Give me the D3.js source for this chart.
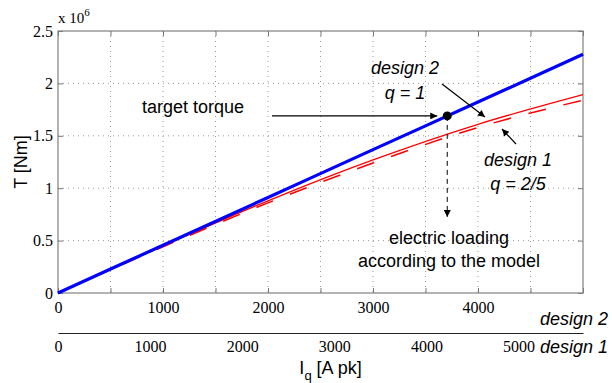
<!DOCTYPE html>
<html>
<head>
<meta charset="utf-8">
<script src="https://cdn.jsdelivr.net/npm/d3@7"></script>
<style>
  body { margin: 0; background: #fff; }
  svg { display: block; }
  .tick text { font-family: "Liberation Serif", "Times New Roman", serif; font-size: 16px; fill: #000; }
  .ann { font-family: "Liberation Sans", Arial, sans-serif; font-size: 18px; fill: #000; }
</style>
</head>
<body>
<div id="chart"></div>
<script>
// current on the design 2 axis [A pk]
const current = [0, 1000, 2000, 3000, 4000, 5000];
// torque [Nm]
const torqueDesign2 = [0, 456000, 912000, 1368000, 1822000, 2278000];
const torqueDesign1 = [0, 450000, 880000, 1270000, 1610000, 1893000];
const torqueDesign1Model = [0, 440000, 860000, 1240000, 1580000, 1840000];
const targetPoint = { current: 3707, torque: 1690000 };
const xTicks = [0, 500, 1000, 1500, 2000, 2500, 3000, 3500, 4000, 4500, 5000];
const xTickLabels = [0, 1000, 2000, 3000, 4000];
const xTicksDesign1 = [0, 1000, 2000, 3000, 4000, 5000];
const yTicks = [0, 0.5e6, 1e6, 1.5e6, 2e6, 2.5e6];

const fullWidth = 612, fullHeight = 383;
const margin = { top: 31, right: 29, bottom: 90, left: 58 };
const width = fullWidth - margin.left - margin.right;
const height = fullHeight - margin.top - margin.bottom;

const svg = d3.select("#chart").append("svg")
  .attr("width", fullWidth)
  .attr("height", fullHeight);

const defs = svg.append("defs");
defs.append("marker")
  .attr("id", "head")
  .attr("viewBox", "0 0 10 10")
  .attr("refX", 10).attr("refY", 5)
  .attr("markerWidth", 10).attr("markerHeight", 7)
  .attr("markerUnits", "userSpaceOnUse")
  .attr("orient", "auto")
  .append("path")
  .attr("d", "M0,0 L10,5 L0,10 z")
  .attr("fill", "#000");

const g = svg.append("g")
  .attr("transform", `translate(${margin.left},${margin.top})`);

const x = d3.scaleLinear().domain([0, 5000]).range([0, width]);
const x1 = d3.scaleLinear().domain([0, 5700]).range([0, width]);
const y = d3.scaleLinear().domain([0, 2.5e6]).range([height, 0]);

// grid
g.append("g").selectAll("line")
  .data(xTicks.slice(1, -1))
  .join("line")
  .attr("x1", d => x(d)).attr("x2", d => x(d))
  .attr("y1", 0).attr("y2", height)
  .attr("stroke", "#999").attr("stroke-width", 1)
  .attr("stroke-dasharray", "1,4");

g.append("g").selectAll("line")
  .data(yTicks.slice(1, -1))
  .join("line")
  .attr("x1", 0).attr("x2", width)
  .attr("y1", d => y(d)).attr("y2", d => y(d))
  .attr("stroke", "#999").attr("stroke-width", 1)
  .attr("stroke-dasharray", "1,4");

// axes (ticks inside, MATLAB style)
const xAxis = g.append("g")
  .attr("transform", `translate(0,${height})`)
  .call(d3.axisBottom(x).tickValues(xTicks)
    .tickFormat(d => xTickLabels.includes(d) ? d : "")
    .tickSize(-5).tickPadding(9));

const yAxis = g.append("g")
  .call(d3.axisLeft(y).tickValues(yTicks)
    .tickFormat(d => d / 1e6)
    .tickSize(-5).tickPadding(5));

const topAxis = g.append("g")
  .call(d3.axisTop(x).tickValues(xTicks).tickFormat("").tickSize(-5));

const rightAxis = g.append("g")
  .attr("transform", `translate(${width},0)`)
  .call(d3.axisRight(y).tickValues(yTicks).tickFormat("").tickSize(-5));

[xAxis, yAxis, topAxis, rightAxis].forEach(a => {
  a.select(".domain").remove();
  a.selectAll(".tick line").attr("stroke", "#777");
});

g.append("rect")
  .attr("width", width).attr("height", height)
  .attr("fill", "none").attr("stroke", "#808080").attr("stroke-width", 1.2);

// design 1 current axis
const x1Axis = g.append("g")
  .attr("transform", `translate(0,${height + 40})`)
  .call(d3.axisBottom(x1).tickValues(xTicksDesign1)
    .tickFormat(d3.format("d")).tickSize(0).tickPadding(8));
x1Axis.select(".domain").attr("stroke", "#222").attr("stroke-width", 1.2);

// curves
const line = d3.line()
  .x((d, i) => x(current[i]))
  .y(d => y(d))
  .curve(d3.curveMonotoneX);

g.append("path")
  .datum(torqueDesign1Model)
  .attr("fill", "none")
  .attr("stroke", "#ff0000")
  .attr("stroke-width", 1.5)
  .attr("stroke-dasharray", "18,18")
  .attr("d", line);

g.append("path")
  .datum(torqueDesign1)
  .attr("fill", "none")
  .attr("stroke", "#ff0000")
  .attr("stroke-width", 1.3)
  .attr("d", line);

g.append("path")
  .datum(torqueDesign2)
  .attr("fill", "none")
  .attr("stroke", "#0000ff")
  .attr("stroke-width", 3.2)
  .attr("d", line);

// target point and annotations
const px = x(targetPoint.current), py = y(targetPoint.torque);

g.append("line")
  .attr("x1", px).attr("x2", px)
  .attr("y1", py).attr("y2", py + 101)
  .attr("stroke", "#000").attr("stroke-width", 1)
  .attr("stroke-dasharray", "5,4")
  .attr("marker-end", "url(#head)");

g.append("circle")
  .attr("cx", px).attr("cy", py).attr("r", 4.5)
  .attr("fill", "#000");

const arrow = (xa, ya, xb, yb) => g.append("line")
  .attr("x1", xa).attr("y1", ya).attr("x2", xb).attr("y2", yb)
  .attr("stroke", "#000").attr("stroke-width", 1.2)
  .attr("marker-end", "url(#head)");

arrow(214, py, px - 10, py);
arrow(384, 53, 427, 86);
arrow(458, 113, 444, 98);

const ann = (tx, ty, txt, anchor, italic) => g.append("text")
  .attr("class", "ann")
  .attr("x", tx).attr("y", ty)
  .attr("text-anchor", anchor || "middle")
  .style("font-style", italic ? "italic" : "normal")
  .text(txt);

ann(84, 82, "target torque", "start");
ann(347, 43, "design 2", "middle", true);
ann(347, 68, "q = 1", "middle", true);
ann(460, 135, "design 1", "middle", true);
ann(460, 159, "q = 2/5", "middle", true);
ann(391, 213, "electric loading");
ann(391, 236, "according to the model");

ann(width + 25, height + 32, "design 2", "end", true);
ann(width + 25, height + 60, "design 1", "end", true);

// axis labels
const xl = g.append("text").attr("class", "ann")
  .attr("x", width / 2 + 10).attr("y", height + 81)
  .attr("text-anchor", "middle");
xl.append("tspan").text("I");
xl.append("tspan").attr("font-size", "13px").attr("dy", 6).text("q");
xl.append("tspan").attr("dy", -6).text(" [A pk]");

g.append("text").attr("class", "ann")
  .attr("transform", "rotate(-90)")
  .attr("x", -height / 2).attr("y", -31)
  .attr("text-anchor", "middle")
  .text("T [Nm]");

const sc = g.append("text")
  .attr("x", 0).attr("y", -8)
  .style("font-family", "'Liberation Serif', serif")
  .style("font-size", "15px");
sc.append("tspan").text("x 10");
sc.append("tspan").attr("dy", -7).style("font-size", "11px").text("6");
</script>
</body>
</html>
